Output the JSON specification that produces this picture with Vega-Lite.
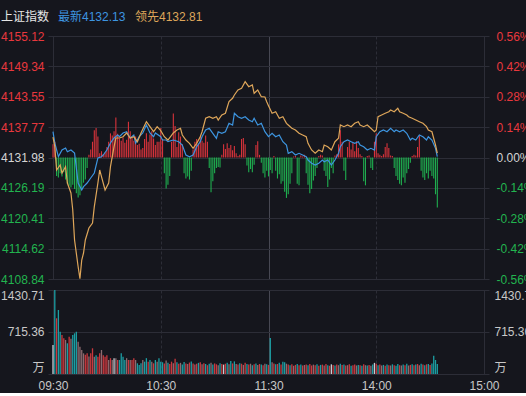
{
"$schema": "https://vega.github.io/schema/vega-lite/v6.json",
"background": "#15161d",
"padding": {"left": 0, "top": 11, "right": 0, "bottom": 2},
"bounds": "flush",
"spacing": 11,
"config": {"view": {"stroke": null}, "font": "Liberation Sans, Noto Sans CJK SC", "axis": {"labelFont": "Liberation Sans, Noto Sans CJK SC", "labelFontSize": 12}, "legend": {"labelFont": "Liberation Sans, Noto Sans CJK SC", "titleFont": "Liberation Sans, Noto Sans CJK SC"}},
"datasets": {
"ind": [{"m":0,"v":2.5},{"m":1,"v":3.0},{"m":2,"v":-3.5},{"m":3,"v":-3.8},{"m":4,"v":-3.0},{"m":5,"v":-3.6},{"m":6,"v":-2.8},{"m":7,"v":-4.2},{"m":8,"v":-5.0},{"m":9,"v":-5.4},{"m":10,"v":-5.7},{"m":11,"v":-5.2},{"m":12,"v":-6.0},{"m":13,"v":-6.8},{"m":14,"v":-7.6},{"m":15,"v":-7.2},{"m":16,"v":-6.0},{"m":17,"v":-4.8},{"m":18,"v":-4.2},{"m":19,"v":-2.0},{"m":20,"v":0.5},{"m":21,"v":1.5},{"m":22,"v":3.0},{"m":23,"v":5.2},{"m":24,"v":5.6},{"m":25,"v":4.0},{"m":26,"v":0.8},{"m":27,"v":1.2},{"m":28,"v":0.6},{"m":29,"v":1.0},{"m":30,"v":2.0},{"m":31,"v":3.0},{"m":32,"v":4.6},{"m":33,"v":4.2},{"m":34,"v":5.0},{"m":35,"v":7.6},{"m":36,"v":4.5},{"m":37,"v":3.6},{"m":38,"v":3.2},{"m":39,"v":3.8},{"m":40,"v":2.8},{"m":41,"v":3.4},{"m":42,"v":6.8},{"m":43,"v":5.0},{"m":44,"v":3.8},{"m":45,"v":3.2},{"m":46,"v":4.0},{"m":47,"v":2.4},{"m":48,"v":2.6},{"m":49,"v":1.5},{"m":50,"v":1.8},{"m":51,"v":3.5},{"m":52,"v":4.6},{"m":53,"v":3.0},{"m":54,"v":4.4},{"m":55,"v":5.0},{"m":56,"v":3.6},{"m":57,"v":2.4},{"m":58,"v":3.0},{"m":59,"v":3.0},{"m":60,"v":5.6},{"m":61,"v":3.5},{"m":62,"v":-3.0},{"m":63,"v":-5.9},{"m":64,"v":-5.2},{"m":65,"v":-3.5},{"m":66,"v":3.0},{"m":67,"v":8.4},{"m":68,"v":6.0},{"m":69,"v":2.0},{"m":70,"v":4.8},{"m":71,"v":4.0},{"m":72,"v":2.5},{"m":73,"v":-3.0},{"m":74,"v":-4.0},{"m":75,"v":-3.6},{"m":76,"v":-4.2},{"m":77,"v":-2.5},{"m":78,"v":1.5},{"m":79,"v":3.0},{"m":80,"v":3.5},{"m":81,"v":2.6},{"m":82,"v":4.0},{"m":83,"v":3.2},{"m":84,"v":2.8},{"m":85,"v":4.2},{"m":86,"v":3.0},{"m":87,"v":-2.0},{"m":88,"v":-6.6},{"m":89,"v":-4.5},{"m":90,"v":-3.0},{"m":91,"v":-2.0},{"m":92,"v":-1.8},{"m":93,"v":-1.9},{"m":94,"v":0.5},{"m":95,"v":2.5},{"m":96,"v":1.6},{"m":97,"v":2.7},{"m":98,"v":1.8},{"m":99,"v":2.4},{"m":100,"v":1.4},{"m":101,"v":2.2},{"m":102,"v":0.8},{"m":103,"v":0.3},{"m":104,"v":0.5},{"m":105,"v":3.5},{"m":106,"v":3.7},{"m":107,"v":2.5},{"m":108,"v":-1.5},{"m":109,"v":-2.8},{"m":110,"v":-2.2},{"m":111,"v":-2.8},{"m":112,"v":-1.4},{"m":113,"v":2.4},{"m":114,"v":3.1},{"m":115,"v":0.5},{"m":116,"v":-1.0},{"m":117,"v":-3.0},{"m":118,"v":-3.8},{"m":119,"v":-2.5},{"m":120,"v":-3.6},{"m":121,"v":-2.4},{"m":122,"v":-3.0},{"m":123,"v":0.3},{"m":124,"v":-2.5},{"m":125,"v":-4.0},{"m":126,"v":-3.2},{"m":127,"v":-5.0},{"m":128,"v":-4.5},{"m":129,"v":-6.5},{"m":130,"v":-7.7},{"m":131,"v":-7.0},{"m":132,"v":-5.0},{"m":133,"v":-3.0},{"m":134,"v":0.2},{"m":135,"v":0.3},{"m":136,"v":-5.0},{"m":137,"v":-5.3},{"m":138,"v":0.4},{"m":139,"v":0.2},{"m":140,"v":0.5},{"m":141,"v":-3.0},{"m":142,"v":-5.2},{"m":143,"v":-6.8},{"m":144,"v":-6.0},{"m":145,"v":-4.4},{"m":146,"v":-3.5},{"m":147,"v":-2.0},{"m":148,"v":0.3},{"m":149,"v":0.5},{"m":150,"v":0.4},{"m":151,"v":-2.5},{"m":152,"v":-3.5},{"m":153,"v":-5.6},{"m":154,"v":-4.2},{"m":155,"v":-2.0},{"m":156,"v":-3.0},{"m":157,"v":0.4},{"m":158,"v":0.6},{"m":159,"v":2.5},{"m":160,"v":5.2},{"m":161,"v":3.0},{"m":162,"v":-2.5},{"m":163,"v":-4.3},{"m":164,"v":2.0},{"m":165,"v":3.0},{"m":166,"v":1.5},{"m":167,"v":2.8},{"m":168,"v":1.2},{"m":169,"v":3.1},{"m":170,"v":1.8},{"m":171,"v":0.6},{"m":172,"v":0.3},{"m":173,"v":-4.5},{"m":174,"v":-5.3},{"m":175,"v":0.3},{"m":176,"v":0.4},{"m":177,"v":-2.0},{"m":178,"v":-2.4},{"m":179,"v":3.0},{"m":180,"v":4.6},{"m":181,"v":0.8},{"m":182,"v":0.5},{"m":183,"v":0.3},{"m":184,"v":0.6},{"m":185,"v":2.0},{"m":186,"v":2.7},{"m":187,"v":1.8},{"m":188,"v":0.4},{"m":189,"v":0.3},{"m":190,"v":-2.0},{"m":191,"v":-3.5},{"m":192,"v":-4.3},{"m":193,"v":-5.0},{"m":194,"v":-5.3},{"m":195,"v":-3.8},{"m":196,"v":-4.8},{"m":197,"v":-3.0},{"m":198,"v":-2.2},{"m":199,"v":-1.0},{"m":200,"v":0.3},{"m":201,"v":0.5},{"m":202,"v":0.4},{"m":203,"v":2.0},{"m":204,"v":4.2},{"m":205,"v":-2.5},{"m":206,"v":-3.8},{"m":207,"v":-4.3},{"m":208,"v":-3.0},{"m":209,"v":-4.0},{"m":210,"v":-2.5},{"m":211,"v":-3.5},{"m":212,"v":-4.0},{"m":213,"v":-7.0},{"m":214,"v":-9.5}],
"px": [
{"m":0,"s":"最新","p":4136.89},{"m":1,"s":"最新","p":4134.74},{"m":3,"s":"最新","p":4132.13},{"m":5,"s":"最新","p":4133.41},{"m":7,"s":"最新","p":4133.79},{"m":8,"s":"最新","p":4133.09},{"m":10,"s":"最新","p":4133.41},{"m":12,"s":"最新","p":4132.84},{"m":14,"s":"最新","p":4127.12},{"m":16,"s":"最新","p":4125.79},{"m":17,"s":"最新","p":4126.42},{"m":19,"s":"最新","p":4127.12},{"m":21,"s":"最新","p":4128.08},{"m":23,"s":"最新","p":4129.03},{"m":25,"s":"最新","p":4131.89},{"m":27,"s":"最新","p":4132.13},{"m":28,"s":"最新","p":4132.46},{"m":30,"s":"最新","p":4133.41},{"m":32,"s":"最新","p":4134.74},{"m":34,"s":"最新","p":4135.69},{"m":36,"s":"最新","p":4136.27},{"m":37,"s":"最新","p":4135.94},{"m":39,"s":"最新","p":4136.65},{"m":41,"s":"最新","p":4136.89},{"m":43,"s":"最新","p":4135.69},{"m":45,"s":"最新","p":4136.27},{"m":46,"s":"最新","p":4134.74},{"m":48,"s":"最新","p":4135.94},{"m":50,"s":"最新","p":4136.65},{"m":52,"s":"最新","p":4138.17},{"m":54,"s":"最新","p":4136.65},{"m":56,"s":"最新","p":4135.94},{"m":57,"s":"最新","p":4136.65},{"m":60,"s":"最新","p":4135.94},{"m":61,"s":"最新","p":4135.31},{"m":63,"s":"最新","p":4135.31},{"m":64,"s":"最新","p":4134.99},{"m":67,"s":"最新","p":4135.31},{"m":70,"s":"最新","p":4134.99},{"m":72,"s":"最新","p":4134.36},{"m":74,"s":"最新","p":4132.46},{"m":76,"s":"最新","p":4132.13},{"m":78,"s":"最新","p":4132.46},{"m":80,"s":"最新","p":4134.04},{"m":82,"s":"最新","p":4134.99},{"m":83,"s":"最新","p":4135.94},{"m":85,"s":"最新","p":4137.22},{"m":87,"s":"最新","p":4137.54},{"m":89,"s":"最新","p":4136.59},{"m":91,"s":"最新","p":4135.64},{"m":92,"s":"最新","p":4136.89},{"m":94,"s":"最新","p":4136.59},{"m":96,"s":"最新","p":4136.89},{"m":98,"s":"最新","p":4138.49},{"m":100,"s":"最新","p":4138.17},{"m":101,"s":"最新","p":4140.40},{"m":103,"s":"最新","p":4139.75},{"m":105,"s":"最新","p":4139.45},{"m":107,"s":"最新","p":4139.75},{"m":109,"s":"最新","p":4139.12},{"m":111,"s":"最新","p":4138.80},{"m":112,"s":"最新","p":4139.45},{"m":114,"s":"最新","p":4138.17},{"m":116,"s":"最新","p":4138.49},{"m":118,"s":"最新","p":4136.89},{"m":120,"s":"最新","p":4135.95},{"m":122,"s":"最新","p":4136.59},{"m":124,"s":"最新","p":4135.94},{"m":126,"s":"最新","p":4136.27},{"m":128,"s":"最新","p":4134.99},{"m":130,"s":"最新","p":4134.36},{"m":131,"s":"最新","p":4132.78},{"m":133,"s":"最新","p":4133.09},{"m":135,"s":"最新","p":4132.46},{"m":137,"s":"最新","p":4132.78},{"m":139,"s":"最新","p":4132.46},{"m":141,"s":"最新","p":4132.13},{"m":142,"s":"最新","p":4131.50},{"m":144,"s":"最新","p":4130.88},{"m":146,"s":"最新","p":4130.55},{"m":148,"s":"最新","p":4130.88},{"m":150,"s":"最新","p":4131.50},{"m":151,"s":"最新","p":4131.18},{"m":153,"s":"最新","p":4131.50},{"m":155,"s":"最新","p":4130.55},{"m":157,"s":"最新","p":4131.50},{"m":159,"s":"最新","p":4132.78},{"m":160,"s":"最新","p":4134.04},{"m":162,"s":"最新","p":4134.99},{"m":164,"s":"最新","p":4135.31},{"m":166,"s":"最新","p":4134.99},{"m":168,"s":"最新","p":4134.68},{"m":170,"s":"最新","p":4134.99},{"m":171,"s":"最新","p":4134.36},{"m":173,"s":"最新","p":4134.04},{"m":175,"s":"最新","p":4133.41},{"m":177,"s":"最新","p":4133.73},{"m":179,"s":"最新","p":4133.41},{"m":180,"s":"最新","p":4135.94},{"m":182,"s":"最新","p":4136.89},{"m":184,"s":"最新","p":4137.22},{"m":186,"s":"最新","p":4136.89},{"m":188,"s":"最新","p":4137.54},{"m":190,"s":"最新","p":4136.89},{"m":191,"s":"最新","p":4137.22},{"m":193,"s":"最新","p":4136.89},{"m":195,"s":"最新","p":4137.22},{"m":197,"s":"最新","p":4136.59},{"m":199,"s":"最新","p":4135.31},{"m":200,"s":"最新","p":4135.64},{"m":202,"s":"最新","p":4135.31},{"m":204,"s":"最新","p":4136.27},{"m":206,"s":"最新","p":4135.94},{"m":208,"s":"最新","p":4135.31},{"m":209,"s":"最新","p":4135.94},{"m":211,"s":"最新","p":4135.31},{"m":213,"s":"最新","p":4133.73},{"m":214,"s":"最新","p":4132.13},
{"m":0,"s":"领先","p":4135.88},{"m":1,"s":"领先","p":4134.04},{"m":2,"s":"领先","p":4129.60},{"m":4,"s":"领先","p":4130.55},{"m":5,"s":"领先","p":4129.03},{"m":7,"s":"领先","p":4130.23},{"m":8,"s":"领先","p":4127.12},{"m":10,"s":"领先","p":4125.22},{"m":11,"s":"领先","p":4121.98},{"m":12,"s":"领先","p":4116.27},{"m":14,"s":"领先","p":4111.18},{"m":15,"s":"领先","p":4108.90},{"m":16,"s":"领先","p":4112.46},{"m":17,"s":"领先","p":4113.79},{"m":18,"s":"领先","p":4116.27},{"m":20,"s":"领先","p":4118.55},{"m":22,"s":"领先","p":4119.51},{"m":23,"s":"领先","p":4122.61},{"m":25,"s":"领先","p":4127.12},{"m":26,"s":"领先","p":4129.60},{"m":27,"s":"领先","p":4128.32},{"m":29,"s":"领先","p":4125.79},{"m":31,"s":"领先","p":4127.12},{"m":32,"s":"领先","p":4130.23},{"m":34,"s":"领先","p":4134.04},{"m":35,"s":"领先","p":4135.69},{"m":37,"s":"领先","p":4135.69},{"m":39,"s":"领先","p":4135.94},{"m":41,"s":"领先","p":4136.65},{"m":43,"s":"领先","p":4135.69},{"m":45,"s":"领先","p":4135.94},{"m":47,"s":"领先","p":4134.99},{"m":49,"s":"领先","p":4136.65},{"m":52,"s":"领先","p":4138.80},{"m":54,"s":"领先","p":4137.85},{"m":56,"s":"领先","p":4136.89},{"m":58,"s":"领先","p":4137.85},{"m":60,"s":"领先","p":4137.10},{"m":62,"s":"领先","p":4135.94},{"m":64,"s":"领先","p":4135.31},{"m":67,"s":"领先","p":4136.65},{"m":69,"s":"领先","p":4137.22},{"m":71,"s":"领先","p":4137.54},{"m":72,"s":"领先","p":4136.27},{"m":74,"s":"领先","p":4135.31},{"m":76,"s":"领先","p":4134.68},{"m":78,"s":"领先","p":4133.73},{"m":80,"s":"领先","p":4134.68},{"m":82,"s":"领先","p":4135.94},{"m":83,"s":"领先","p":4136.89},{"m":85,"s":"领先","p":4139.45},{"m":87,"s":"领先","p":4139.75},{"m":89,"s":"领先","p":4139.45},{"m":91,"s":"领先","p":4139.75},{"m":92,"s":"领先","p":4139.12},{"m":94,"s":"领先","p":4140.07},{"m":96,"s":"领先","p":4140.40},{"m":98,"s":"领先","p":4142.61},{"m":100,"s":"领先","p":4143.26},{"m":101,"s":"领先","p":4143.88},{"m":103,"s":"领先","p":4144.84},{"m":105,"s":"领先","p":4145.16},{"m":107,"s":"领先","p":4146.42},{"m":109,"s":"领先","p":4145.46},{"m":111,"s":"领先","p":4145.79},{"m":112,"s":"领先","p":4144.21},{"m":114,"s":"领先","p":4144.84},{"m":116,"s":"领先","p":4143.56},{"m":118,"s":"领先","p":4143.50},{"m":119,"s":"领先","p":4142.61},{"m":120,"s":"领先","p":4141.85},{"m":122,"s":"领先","p":4140.40},{"m":124,"s":"领先","p":4140.70},{"m":126,"s":"领先","p":4139.45},{"m":128,"s":"领先","p":4139.75},{"m":130,"s":"领先","p":4138.49},{"m":131,"s":"领先","p":4138.17},{"m":133,"s":"领先","p":4137.54},{"m":135,"s":"领先","p":4137.22},{"m":137,"s":"领先","p":4136.59},{"m":139,"s":"领先","p":4136.27},{"m":141,"s":"领先","p":4135.94},{"m":142,"s":"领先","p":4134.68},{"m":144,"s":"领先","p":4133.41},{"m":146,"s":"领先","p":4132.78},{"m":148,"s":"领先","p":4133.41},{"m":150,"s":"领先","p":4133.09},{"m":151,"s":"领先","p":4134.36},{"m":153,"s":"领先","p":4134.04},{"m":155,"s":"领先","p":4133.41},{"m":157,"s":"领先","p":4134.99},{"m":159,"s":"领先","p":4135.64},{"m":160,"s":"领先","p":4138.17},{"m":162,"s":"领先","p":4137.85},{"m":164,"s":"领先","p":4138.17},{"m":166,"s":"领先","p":4137.85},{"m":168,"s":"领先","p":4138.49},{"m":170,"s":"领先","p":4138.80},{"m":171,"s":"领先","p":4138.17},{"m":173,"s":"领先","p":4137.85},{"m":175,"s":"领先","p":4138.17},{"m":177,"s":"领先","p":4137.54},{"m":179,"s":"领先","p":4136.89},{"m":180,"s":"领先","p":4137.22},{"m":181,"s":"领先","p":4139.75},{"m":183,"s":"领先","p":4140.07},{"m":185,"s":"领先","p":4140.40},{"m":187,"s":"领先","p":4140.70},{"m":188,"s":"领先","p":4141.03},{"m":190,"s":"领先","p":4140.70},{"m":192,"s":"领先","p":4141.35},{"m":193,"s":"领先","p":4140.70},{"m":195,"s":"领先","p":4140.40},{"m":197,"s":"领先","p":4140.07},{"m":198,"s":"领先","p":4139.75},{"m":200,"s":"领先","p":4139.45},{"m":202,"s":"领先","p":4139.12},{"m":204,"s":"领先","p":4138.80},{"m":206,"s":"领先","p":4138.49},{"m":208,"s":"领先","p":4137.85},{"m":209,"s":"领先","p":4137.22},{"m":211,"s":"领先","p":4136.89},{"m":213,"s":"领先","p":4134.36},{"m":214,"s":"领先","p":4132.81}],
"vol": [{"m":0,"v":494,"c":"op"},{"m":1,"v":1430.71,"c":"dn"},{"m":2,"v":949,"c":"up"},{"m":3,"v":1090,"c":"dn"},{"m":4,"v":720,"c":"dn"},{"m":5,"v":664,"c":"up"},{"m":6,"v":608,"c":"up"},{"m":7,"v":580,"c":"eq"},{"m":8,"v":523,"c":"dn"},{"m":9,"v":635,"c":"up"},{"m":10,"v":600,"c":"eq"},{"m":11,"v":664,"c":"dn"},{"m":12,"v":693,"c":"dn"},{"m":13,"v":720,"c":"dn"},{"m":14,"v":550,"c":"eq"},{"m":15,"v":465,"c":"eq"},{"m":16,"v":409,"c":"eq"},{"m":17,"v":352,"c":"eq"},{"m":18,"v":330,"c":"up"},{"m":19,"v":352,"c":"up"},{"m":20,"v":300,"c":"eq"},{"m":21,"v":352,"c":"up"},{"m":22,"v":438,"c":"up"},{"m":23,"v":295,"c":"eq"},{"m":24,"v":320,"c":"dn"},{"m":25,"v":295,"c":"up"},{"m":26,"v":352,"c":"up"},{"m":27,"v":409,"c":"eq"},{"m":28,"v":320,"c":"up"},{"m":29,"v":295,"c":"up"},{"m":30,"v":320,"c":"up"},{"m":31,"v":238,"c":"eq"},{"m":32,"v":270,"c":"up"},{"m":33,"v":238,"c":"eq"},{"m":34,"v":270,"c":"op"},{"m":35,"v":270,"c":"eq"},{"m":36,"v":238,"c":"up"},{"m":37,"v":238,"c":"dn"},{"m":38,"v":352,"c":"dn"},{"m":39,"v":295,"c":"dn"},{"m":40,"v":238,"c":"dn"},{"m":41,"v":270,"c":"eq"},{"m":42,"v":238,"c":"up"},{"m":43,"v":238,"c":"eq"},{"m":44,"v":238,"c":"up"},{"m":45,"v":270,"c":"up"},{"m":46,"v":238,"c":"eq"},{"m":47,"v":182,"c":"dn"},{"m":48,"v":154,"c":"dn"},{"m":49,"v":182,"c":"dn"},{"m":50,"v":238,"c":"eq"},{"m":51,"v":210,"c":"dn"},{"m":52,"v":270,"c":"dn"},{"m":53,"v":210,"c":"up"},{"m":54,"v":238,"c":"dn"},{"m":55,"v":210,"c":"eq"},{"m":56,"v":182,"c":"up"},{"m":57,"v":238,"c":"dn"},{"m":58,"v":210,"c":"eq"},{"m":59,"v":270,"c":"dn"},{"m":60,"v":210,"c":"dn"},{"m":61,"v":200,"c":"dn"},{"m":62,"v":180,"c":"up"},{"m":63,"v":230,"c":"eq"},{"m":64,"v":190,"c":"dn"},{"m":65,"v":170,"c":"up"},{"m":66,"v":210,"c":"up"},{"m":67,"v":185,"c":"eq"},{"m":68,"v":260,"c":"up"},{"m":69,"v":200,"c":"dn"},{"m":70,"v":175,"c":"up"},{"m":71,"v":190,"c":"eq"},{"m":72,"v":160,"c":"dn"},{"m":73,"v":205,"c":"dn"},{"m":74,"v":180,"c":"up"},{"m":75,"v":170,"c":"eq"},{"m":76,"v":195,"c":"up"},{"m":77,"v":215,"c":"dn"},{"m":78,"v":180,"c":"up"},{"m":79,"v":160,"c":"eq"},{"m":80,"v":175,"c":"up"},{"m":81,"v":190,"c":"dn"},{"m":82,"v":200,"c":"up"},{"m":83,"v":165,"c":"eq"},{"m":84,"v":185,"c":"up"},{"m":85,"v":170,"c":"dn"},{"m":86,"v":150,"c":"up"},{"m":87,"v":175,"c":"dn"},{"m":88,"v":190,"c":"eq"},{"m":89,"v":160,"c":"dn"},{"m":90,"v":180,"c":"up"},{"m":91,"v":165,"c":"up"},{"m":92,"v":150,"c":"eq"},{"m":93,"v":185,"c":"dn"},{"m":94,"v":170,"c":"up"},{"m":95,"v":160,"c":"op"},{"m":96,"v":175,"c":"up"},{"m":97,"v":190,"c":"dn"},{"m":98,"v":165,"c":"eq"},{"m":99,"v":221,"c":"dn"},{"m":100,"v":180,"c":"up"},{"m":101,"v":215,"c":"dn"},{"m":102,"v":170,"c":"eq"},{"m":103,"v":160,"c":"up"},{"m":104,"v":185,"c":"dn"},{"m":105,"v":175,"c":"up"},{"m":106,"v":155,"c":"eq"},{"m":107,"v":190,"c":"up"},{"m":108,"v":170,"c":"dn"},{"m":109,"v":160,"c":"up"},{"m":110,"v":175,"c":"eq"},{"m":111,"v":150,"c":"dn"},{"m":112,"v":165,"c":"up"},{"m":113,"v":180,"c":"dn"},{"m":114,"v":155,"c":"eq"},{"m":115,"v":170,"c":"up"},{"m":116,"v":160,"c":"dn"},{"m":117,"v":150,"c":"up"},{"m":118,"v":175,"c":"eq"},{"m":119,"v":165,"c":"dn"},{"m":120,"v":155,"c":"up"},{"m":121,"v":613,"c":"dn"},{"m":122,"v":200,"c":"eq"},{"m":123,"v":180,"c":"up"},{"m":124,"v":165,"c":"dn"},{"m":125,"v":170,"c":"up"},{"m":126,"v":190,"c":"dn"},{"m":127,"v":160,"c":"up"},{"m":128,"v":210,"c":"dn"},{"m":129,"v":200,"c":"dn"},{"m":130,"v":175,"c":"eq"},{"m":131,"v":160,"c":"up"},{"m":132,"v":150,"c":"dn"},{"m":133,"v":165,"c":"up"},{"m":134,"v":140,"c":"eq"},{"m":135,"v":155,"c":"up"},{"m":136,"v":170,"c":"dn"},{"m":137,"v":150,"c":"up"},{"m":138,"v":160,"c":"dn"},{"m":139,"v":145,"c":"up"},{"m":140,"v":155,"c":"eq"},{"m":141,"v":160,"c":"up"},{"m":142,"v":150,"c":"dn"},{"m":143,"v":170,"c":"up"},{"m":144,"v":145,"c":"up"},{"m":145,"v":160,"c":"eq"},{"m":146,"v":150,"c":"up"},{"m":147,"v":165,"c":"dn"},{"m":148,"v":140,"c":"up"},{"m":149,"v":155,"c":"dn"},{"m":150,"v":160,"c":"up"},{"m":151,"v":145,"c":"eq"},{"m":152,"v":170,"c":"up"},{"m":153,"v":150,"c":"dn"},{"m":154,"v":140,"c":"up"},{"m":155,"v":165,"c":"op"},{"m":156,"v":155,"c":"up"},{"m":157,"v":145,"c":"dn"},{"m":158,"v":160,"c":"up"},{"m":159,"v":150,"c":"eq"},{"m":160,"v":175,"c":"dn"},{"m":161,"v":155,"c":"up"},{"m":162,"v":160,"c":"dn"},{"m":163,"v":145,"c":"up"},{"m":164,"v":150,"c":"eq"},{"m":165,"v":165,"c":"up"},{"m":166,"v":140,"c":"dn"},{"m":167,"v":150,"c":"up"},{"m":168,"v":160,"c":"up"},{"m":169,"v":145,"c":"eq"},{"m":170,"v":155,"c":"dn"},{"m":171,"v":150,"c":"up"},{"m":172,"v":140,"c":"dn"},{"m":173,"v":165,"c":"up"},{"m":174,"v":150,"c":"eq"},{"m":175,"v":145,"c":"dn"},{"m":176,"v":155,"c":"up"},{"m":177,"v":140,"c":"eq"},{"m":178,"v":160,"c":"dn"},{"m":179,"v":190,"c":"op"},{"m":180,"v":175,"c":"up"},{"m":181,"v":150,"c":"dn"},{"m":182,"v":160,"c":"up"},{"m":183,"v":145,"c":"eq"},{"m":184,"v":155,"c":"dn"},{"m":185,"v":140,"c":"up"},{"m":186,"v":160,"c":"dn"},{"m":187,"v":150,"c":"up"},{"m":188,"v":145,"c":"eq"},{"m":189,"v":165,"c":"dn"},{"m":190,"v":150,"c":"up"},{"m":191,"v":140,"c":"dn"},{"m":192,"v":170,"c":"dn"},{"m":193,"v":150,"c":"up"},{"m":194,"v":145,"c":"eq"},{"m":195,"v":160,"c":"dn"},{"m":196,"v":150,"c":"up"},{"m":197,"v":175,"c":"dn"},{"m":198,"v":145,"c":"eq"},{"m":199,"v":155,"c":"up"},{"m":200,"v":165,"c":"dn"},{"m":201,"v":150,"c":"up"},{"m":202,"v":160,"c":"dn"},{"m":203,"v":170,"c":"up"},{"m":204,"v":150,"c":"eq"},{"m":205,"v":175,"c":"dn"},{"m":206,"v":160,"c":"up"},{"m":207,"v":150,"c":"dn"},{"m":208,"v":165,"c":"up"},{"m":209,"v":170,"c":"dn"},{"m":210,"v":155,"c":"up"},{"m":211,"v":180,"c":"dn"},{"m":212,"v":312,"c":"dn"},{"m":213,"v":238,"c":"dn"},{"m":214,"v":170,"c":"dn"}]
},
"vconcat": [
{
"width": 441, "height": 243,
"encoding": {"x": {"field": "m", "type": "quantitative", "scale": {"domain": [0, 240], "nice": false, "zero": false},
  "axis": {"values": [0, 60, 120, 180, 240], "labels": false, "ticks": false, "domain": false, "title": null, "grid": true,
    "gridColor": {"condition": {"test": "datum.value == 120", "value": "#474853"}, "value": "#2c2d37"},
    "gridDash": {"condition": {"test": "datum.value == 60 || datum.value == 180", "value": [3, 2]}, "value": []}}}},
"layer": [
 {"data": {"name": "ind"}, "mark": {"type": "bar", "width": 1.1},
  "encoding": {"y": {"field": "v", "type": "quantitative", "scale": {"domain": [-23.14, 23.14], "nice": false, "zero": false}, "axis": null},
   "y2": {"datum": 0},
   "color": {"condition": {"test": "datum.v >= 0", "value": "#d8333b"}, "value": "#1fae4f"}}},
 {"data": {"name": "px"}, "transform": [{"filter": "datum.s == '最新'"}], "mark": {"type": "line", "strokeWidth": 1.2},
  "encoding": {"y": {"field": "p", "type": "quantitative", "scale": {"domain": [4108.84, 4155.12], "nice": false, "zero": false},
    "axis": {"orient": "left", "values": [4108.84, 4114.62, 4120.41, 4126.19, 4131.98, 4137.77, 4143.55, 4149.34, 4155.12], "format": ".2f", "title": null, "ticks": false, "domain": false, "labelPadding": 4, "labelFlush": false, "grid": true, "gridColor": "#2c2d37",
      "labelColor": {"expr": "datum.value > 4132 ? '#e8383d' : (datum.value < 4131.9 ? '#22b44f' : '#d4d4d4')"}}},
   "color": {"field": "s", "type": "nominal", "scale": {"domain": ["最新", "领先"], "range": ["#3d95e0", "#dea65a"]},
    "legend": {"title": "上证指数", "orient": "none", "legendX": -47, "legendY": -25, "direction": "horizontal", "titleOrient": "left", "titleColor": "#e6e6e6", "titleFontSize": 12, "titleFontWeight": "normal", "titlePadding": 10, "labelFontSize": 12, "labelExpr": "datum.value == '最新' ? '最新4132.13' : '领先4132.81'", "labelColor": {"expr": "datum.value == '最新' ? '#3d95e0' : '#dea65a'"}, "symbolSize": 0, "symbolOpacity": 0, "symbolStrokeWidth": 0, "labelOffset": -14, "columnPadding": 9, "padding": 0}}}},
 {"data": {"name": "px"}, "transform": [{"filter": "datum.s == '领先'"}], "mark": {"type": "line", "strokeWidth": 1.2},
  "encoding": {"y": {"field": "p", "type": "quantitative", "scale": {"domain": [4108.84, 4155.12], "nice": false, "zero": false},
    "axis": {"orient": "right", "values": [4108.84, 4114.62, 4120.41, 4126.19, 4131.98, 4137.77, 4143.55, 4149.34, 4155.12], "labelExpr": "replace(format((datum.value - 4131.98) / 4131.98 * 100, '.2f'), '\u2212', '-') + '%'", "title": null, "ticks": false, "domain": false, "labelPadding": 7, "labelFlush": false, "grid": false,
      "labelColor": {"expr": "datum.value > 4132 ? '#e8383d' : (datum.value < 4131.9 ? '#22b44f' : '#d4d4d4')"}}},
   "color": {"field": "s", "type": "nominal", "scale": {"domain": ["最新", "领先"], "range": ["#3d95e0", "#dea65a"]}}}}
],
"resolve": {"scale": {"y": "independent"}}
},
{
"width": 441, "height": 84,
"data": {"name": "vol"},
"encoding": {"x": {"field": "m", "type": "quantitative", "scale": {"domain": [0, 240], "nice": false, "zero": false},
  "axis": {"values": [0, 60, 120, 180, 240], "labelExpr": "datum.value == 0 ? '09:30' : datum.value == 60 ? '10:30' : datum.value == 120 ? '11:30' : datum.value == 180 ? '14:00' : '15:00'", "labelColor": "#c8c8c8", "labelPadding": 6, "labelFlush": false, "ticks": false, "domain": false, "title": null, "grid": true,
    "gridColor": {"condition": {"test": "datum.value == 120", "value": "#474853"}, "value": "#2c2d37"},
    "gridDash": {"condition": {"test": "datum.value == 60 || datum.value == 180", "value": [3, 2]}, "value": []}}},
  "color": {"condition": [{"test": "datum.c == 'up'", "value": "#c9383e"}, {"test": "datum.c == 'dn'", "value": "#1c9ea3"}, {"test": "datum.c == 'eq'", "value": "#8c6b70"}], "value": "#c3ced4"}},
"layer": [
 {"transform": [{"filter": "datum.m < 120"}], "mark": {"type": "bar", "width": 1.3},
  "encoding": {"y": {"field": "v", "type": "quantitative", "scale": {"domain": [0, 1430.71], "nice": false, "zero": true},
   "axis": {"orient": "left", "values": [0, 715.36, 1430.71], "labelExpr": "datum.value == 0 ? '万' : format(datum.value, '.2f')", "labelFlush": true, "labelColor": "#c8c8c8", "ticks": false, "domain": false, "labelPadding": 4, "title": null, "grid": true, "gridColor": "#2c2d37"}}}},
 {"transform": [{"filter": "datum.m >= 120"}], "mark": {"type": "bar", "width": 1.3},
  "encoding": {"y": {"field": "v", "type": "quantitative", "scale": {"domain": [0, 1430.71], "nice": false, "zero": true},
   "axis": {"orient": "right", "values": [0, 715.36, 1430.71], "labelExpr": "datum.value == 0 ? '万' : format(datum.value, '.2f')", "labelFlush": true, "labelColor": "#c8c8c8", "ticks": false, "domain": false, "labelPadding": 5, "title": null, "grid": false}}}}
],
"resolve": {"scale": {"y": "independent"}}
}
]
}
